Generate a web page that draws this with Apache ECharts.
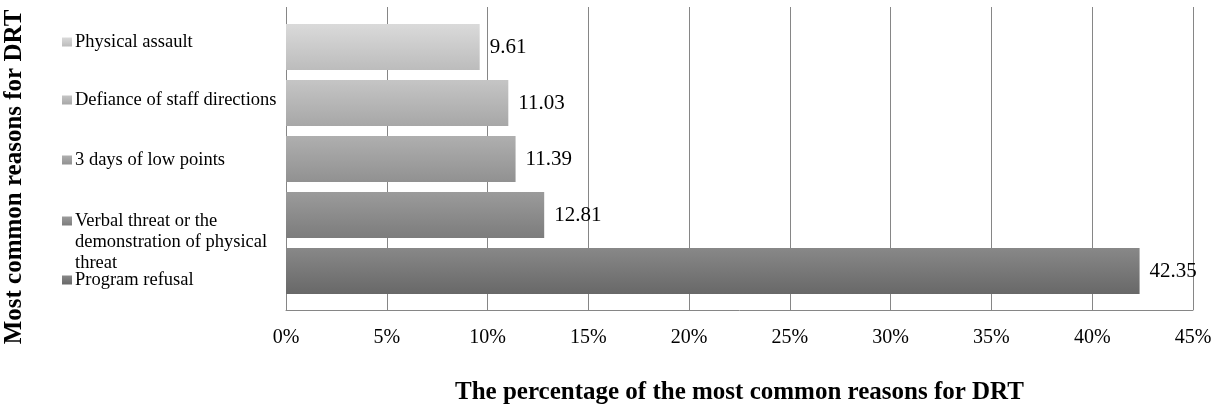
<!DOCTYPE html>
<html>
<head>
<meta charset="utf-8">
<script src="https://cdn.jsdelivr.net/npm/echarts@6/dist/echarts.min.js"></script>
<style>
  html, body { margin: 0; padding: 0; background: #fff; }
  #chart { width: 1219px; height: 408px; }
</style>
</head>
<body>
<div id="chart"></div>
<script>
// 数据
var categories = ['Physical assault', 'Defiance of staff directions', '3 days of low points',
    'Verbal threat or the\ndemonstration of physical\nthreat', 'Program refusal'];
var values = [9.61, 11.03, 11.39, 12.81, 42.35];
var tickLabels = ['0%', '5%', '10%', '15%', '20%', '25%', '30%', '35%', '40%', '45%'];

// 每个柱子的渐变色 (上浅下深)
var colorTop = ['#dadada', '#c5c5c5', '#afafaf', '#9b9b9b', '#888888'];
var colorBottom = ['#bcbcbc', '#a7a7a7', '#919191', '#7c7c7c', '#686868'];
var legendY = [42, 100, 160, 221, 280];

var font = '"Liberation Serif", "Times New Roman", serif';
var myChart = echarts.init(document.getElementById('chart'));

var series = [];
var legends = [];
var extraText = [];
categories.forEach(function (name, i) {
    var data = categories.map(function (c, j) { return j === i ? values[i] : '-'; });
    var lines = name.split('\n');
    series.push({
        name: name,
        type: 'bar',
        xAxisIndex: 0,
        yAxisIndex: 0,
        barWidth: 46,
        barGap: '-100%',
        data: data,
        itemStyle: {
            color: new echarts.graphic.LinearGradient(0, 0, 0, 1, [
                { offset: 0, color: colorTop[i] },
                { offset: 1, color: colorBottom[i] }
            ])
        },
        label: {
            show: true,
            position: 'right',
            distance: 10,
            color: '#000',
            fontFamily: font,
            fontSize: 21,
            formatter: function (p) { return p.value.toFixed(2); }
        }
    });
    // 图例只显示第一行, 其余行用文字补上
    legends.push({
        data: [name],
        left: 62,
        top: legendY[i] - 10.5,
        padding: 0,
        itemWidth: 10,
        itemHeight: 9,
        icon: 'rect',
        selectedMode: false,
        formatter: function (n) { return n.split('\n')[0]; },
        textStyle: {
            fontFamily: font,
            fontSize: 18.5,
            lineHeight: 21,
            color: '#000',
            padding: [0, 0, 0, -2]
        }
    });
    if (lines.length > 1) {
        extraText.push({
            type: 'text',
            x: 75,
            y: legendY[i] + 10.5,
            style: {
                text: lines.slice(1).join('\n'),
                fontFamily: font,
                fontSize: 18.5,
                lineHeight: 21,
                fill: '#000',
                align: 'left',
                verticalAlign: 'top'
            }
        });
    }
});

option = {
    animation: false,
    legend: legends,
    grid: [
        { left: 286, right: 26, top: 19, bottom: 109, outerBoundsMode: 'none', containLabel: false },
        { left: 286, right: 26, top: 7, bottom: 98, outerBoundsMode: 'none', containLabel: false }
    ],
    xAxis: [
        {
            gridIndex: 0, type: 'value', min: 0, max: 45, interval: 5,
            show: false
        },
        {
            gridIndex: 1, type: 'value', min: 0, max: 45, interval: 5,
            axisLine: { show: true, lineStyle: { color: '#868686', width: 1 } },
            axisTick: { show: false },
            splitLine: { show: true, lineStyle: { color: '#868686', width: 1 } },
            axisLabel: {
                margin: 18,
                color: '#000',
                fontFamily: font,
                fontSize: 20,
                formatter: function (v) { return tickLabels[Math.round(v / 5)]; }
            },
            name: 'The percentage of the most common reasons for DRT',
            nameLocation: 'middle',
            nameGap: 70,
            nameTextStyle: { color: '#000', fontFamily: font, fontSize: 25, fontWeight: 'bold' }
        }
    ],
    yAxis: [
        {
            gridIndex: 0, type: 'category', inverse: true, data: categories,
            show: false
        },
        {
            gridIndex: 1, type: 'category', data: ['a'],
            axisLine: { show: false }, axisTick: { show: false }, axisLabel: { show: false },
            splitLine: { show: false }
        }
    ],
    graphic: [{
        type: 'text',
        x: 15,
        y: 177,
        rotation: Math.PI / 2,
        style: {
            text: 'Most common reasons for DRT',
            fontFamily: font,
            fontSize: 25,
            fontWeight: 'bold',
            fill: '#000',
            align: 'center',
            verticalAlign: 'middle'
        }
    }].concat(extraText),
    series: series
};
myChart.setOption(option);
</script>
</body>
</html>
